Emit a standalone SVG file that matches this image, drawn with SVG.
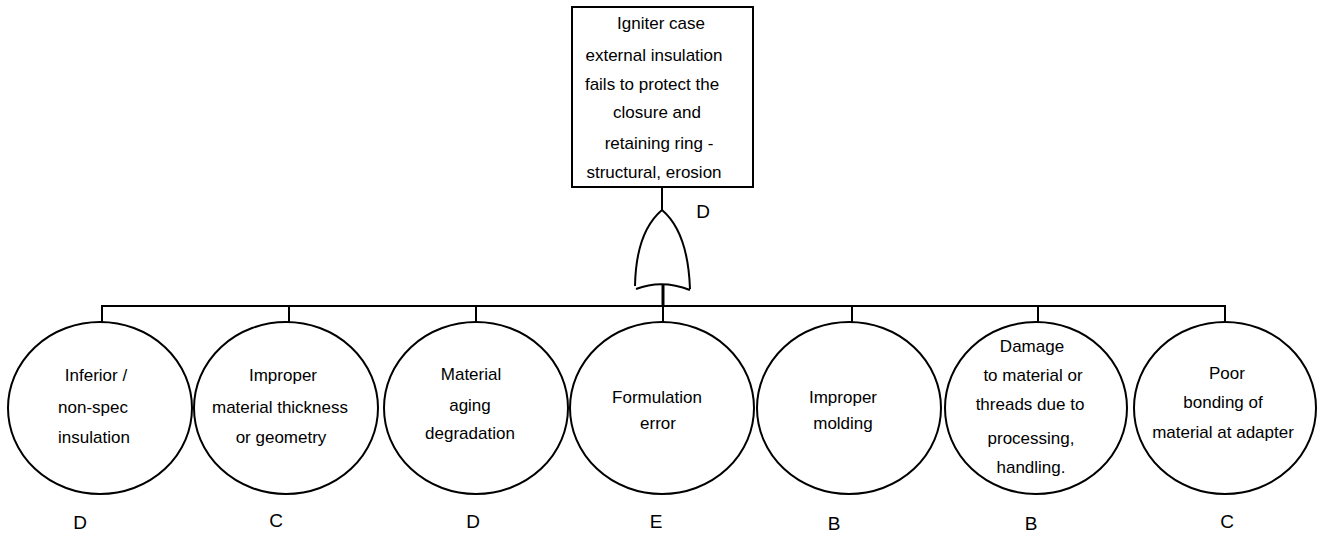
<svg xmlns="http://www.w3.org/2000/svg" width="1317" height="533" viewBox="0 0 1317 533">
<style>
.t{font-family:"Liberation Sans",Arial,sans-serif;font-size:17px;fill:#000;text-anchor:middle}
.l{font-family:"Liberation Sans",Arial,sans-serif;font-size:19px;fill:#000;text-anchor:middle}
.s{fill:none;stroke:#000;stroke-width:2}
.n{fill:#fff;stroke:#000;stroke-width:2}
</style>
<rect width="1317" height="533" fill="#fff"/>
<g id="connectors">
<line class="s" x1="662" y1="187" x2="662" y2="210"/>
<line class="s" x1="663" y1="284" x2="663" y2="307" style="stroke-width:3"/>
<polyline class="s" points="102,322 102,306 1225,306 1225,322"/>
<line class="s" x1="289" y1="306" x2="289" y2="322"/>
<line class="s" x1="476" y1="306" x2="476" y2="322"/>
<line class="s" x1="663" y1="306" x2="663" y2="322"/>
<line class="s" x1="852" y1="306" x2="852" y2="322"/>
<line class="s" x1="1038" y1="306" x2="1038" y2="322"/>
</g>
<g id="top">
<rect class="n" x="572" y="7" width="181" height="180"/>
<text class="t" x="661" y="29">Igniter case</text>
<text class="t" x="654" y="61">external insulation</text>
<text class="t" x="652" y="90">fails to protect the</text>
<text class="t" x="657" y="118">closure and</text>
<text class="t" x="659" y="149">retaining ring -</text>
<text class="t" x="654" y="178">structural, erosion</text>
</g>
<g id="gate">
<path class="s" d="M635,286 Q636,232 662,210 Q688,232 690,289"/>
<path class="s" d="M636,289 Q662,279 690,290"/>
<text class="l" x="703" y="218">D</text>
</g>
<g id="e1">
<ellipse class="n" cx="100" cy="408" rx="92" ry="86"/>
<text class="t" x="96" y="381">Inferior /</text>
<text class="t" x="93" y="413">non-spec</text>
<text class="t" x="94" y="443">insulation</text>
<text class="l" x="80" y="529">D</text>
</g>
<g id="e2">
<ellipse class="n" cx="286" cy="408" rx="92" ry="86"/>
<text class="t" x="283" y="381">Improper</text>
<text class="t" x="280" y="413">material thickness</text>
<text class="t" x="281" y="443">or geometry</text>
<text class="l" x="276" y="527">C</text>
</g>
<g id="e3">
<ellipse class="n" cx="476" cy="408" rx="92" ry="86"/>
<text class="t" x="471" y="380">Material</text>
<text class="t" x="470" y="411">aging</text>
<text class="t" x="470" y="439">degradation</text>
<text class="l" x="473" y="528">D</text>
</g>
<g id="e4">
<ellipse class="n" cx="662" cy="408" rx="92" ry="86"/>
<text class="t" x="657" y="403">Formulation</text>
<text class="t" x="658" y="429">error</text>
<text class="l" x="656" y="528">E</text>
</g>
<g id="e5">
<ellipse class="n" cx="849" cy="408" rx="92" ry="86"/>
<text class="t" x="843" y="403">Improper</text>
<text class="t" x="843" y="429">molding</text>
<text class="l" x="834" y="530">B</text>
</g>
<g id="e6">
<ellipse class="n" cx="1036" cy="408" rx="91" ry="86"/>
<text class="t" x="1032" y="352">Damage</text>
<text class="t" x="1033" y="381">to material or</text>
<text class="t" x="1030" y="410">threads due to</text>
<text class="t" x="1031" y="444">processing,</text>
<text class="t" x="1031" y="473">handling.</text>
<text class="l" x="1031" y="530">B</text>
</g>
<g id="e7">
<ellipse class="n" cx="1225" cy="408" rx="91" ry="86"/>
<text class="t" x="1227" y="379">Poor</text>
<text class="t" x="1223" y="408">bonding of</text>
<text class="t" x="1223" y="438">material at adapter</text>
<text class="l" x="1227" y="528">C</text>
</g>
</svg>
